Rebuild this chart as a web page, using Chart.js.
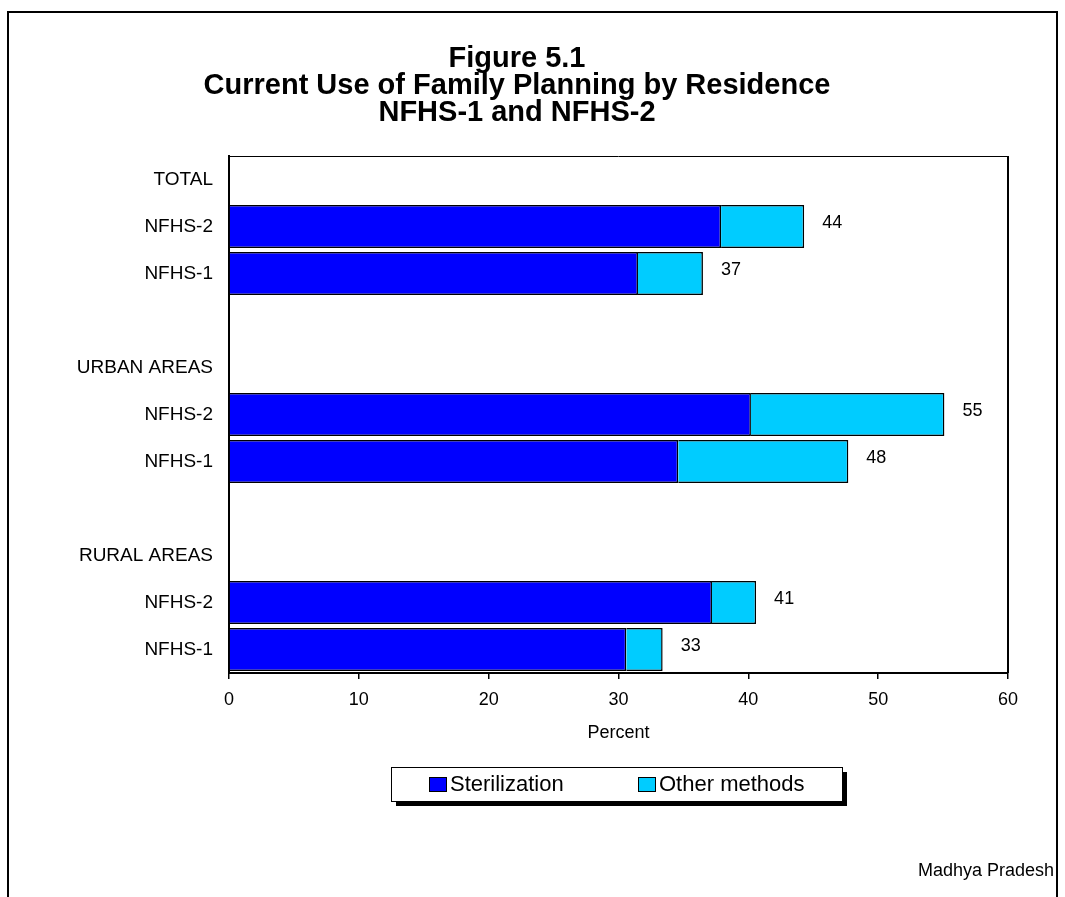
<!DOCTYPE html>
<html>
<head>
<meta charset="utf-8">
<title>Figure 5.1</title>
<script src="https://cdn.jsdelivr.net/npm/chart.js@4/dist/chart.umd.min.js"></script>
<style>
    html, body { margin: 0; padding: 0; background: #fff; }
    #wrap { position: relative; width: 1065px; height: 897px; }
</style>
</head>
<body>
<div id="wrap"><canvas id="fpChart" width="1065" height="897"></canvas></div>
<script>
// Chart Data
const categories = ['TOTAL', 'NFHS-2', 'NFHS-1', '', 'URBAN AREAS', 'NFHS-2', 'NFHS-1', '', 'RURAL AREAS', 'NFHS-2', 'NFHS-1'];
const sterilization = [null, 37.9, 31.5, null, null, 40.2, 34.6, null, null, 37.2, 30.6];
const otherMethods = [null, 6.4, 5.0, null, null, 14.9, 13.1, null, null, 3.4, 2.8];
const totalLabels = [null, 44, 37, null, null, 55, 48, null, null, 41, 33];
const xTicks = [0, 10, 20, 30, 40, 50, 60];
const seriesNames = ['Sterilization', 'Other methods'];
const titleLines = ['Figure 5.1', 'Current Use of Family Planning by Residence', 'NFHS-1 and NFHS-2'];

const colors = ['#0000FF', '#00CCFF'];
const FONT = "'Liberation Sans', Arial, sans-serif";

// draws title, frame, value labels, axis title, legend
const extrasPlugin = {
    id: 'extras',
    afterDraw(chart) {
        const ctx = chart.ctx;
        const area = chart.chartArea;
        const x = chart.scales.x;
        const y = chart.scales.y;
        ctx.save();

        // outer frame
        ctx.strokeStyle = '#000';
        ctx.lineWidth = 2;
        ctx.beginPath();
        ctx.moveTo(8, 897);
        ctx.lineTo(8, 12);
        ctx.lineTo(1057, 12);
        ctx.lineTo(1057, 897);
        ctx.stroke();

        // plot box
        ctx.lineWidth = 1;
        ctx.beginPath();
        ctx.moveTo(area.left, area.top + 0.5);
        ctx.lineTo(area.right, area.top + 0.5);
        ctx.stroke();
        ctx.lineWidth = 2;
        ctx.beginPath();
        ctx.moveTo(area.right, area.top);
        ctx.lineTo(area.right, area.bottom);
        ctx.stroke();

        // title
        ctx.fillStyle = '#000';
        ctx.textAlign = 'center';
        ctx.textBaseline = 'middle';
        ctx.font = 'bold 29px ' + FONT;
        titleLines.forEach((t, i) => ctx.fillText(t, 517, 59 + i * 27));

        // value labels
        ctx.font = '18px ' + FONT;
        ctx.textAlign = 'left';
        totalLabels.forEach((v, i) => {
            if (v === null) return;
            const end = x.getPixelForValue(sterilization[i] + otherMethods[i]);
            ctx.fillText(String(v), end + 18, y.getPixelForValue(i) - 3);
        });

        // axis title
        ctx.textAlign = 'center';
        ctx.fillText('Percent', (area.left + area.right) / 2, 733);

        // footer
        ctx.textAlign = 'right';
        ctx.fillText('Madhya Pradesh', 1054, 871);

        // legend box with shadow
        const lx = 391, ly = 767, lw = 451, lh = 34;
        ctx.fillStyle = '#000';
        ctx.fillRect(lx + 5, ly + 5, lw, lh);
        ctx.fillStyle = '#fff';
        ctx.fillRect(lx, ly, lw, lh);
        ctx.lineWidth = 1;
        ctx.strokeStyle = '#000';
        ctx.strokeRect(lx + 0.5, ly + 0.5, lw, lh);

        const items = [[429, 450], [638, 659]];
        ctx.font = '22px ' + FONT;
        ctx.textAlign = 'left';
        items.forEach((pos, i) => {
            ctx.fillStyle = colors[i];
            ctx.fillRect(pos[0], 777, 17, 14);
            ctx.strokeRect(pos[0] + 0.5, 777.5, 17, 14);
            ctx.fillStyle = '#000';
            ctx.fillText(seriesNames[i], pos[1], 785);
        });

        ctx.restore();
    }
};

const chartData = {
    labels: categories,
    datasets: [
        {
            label: seriesNames[0],
            data: sterilization,
            backgroundColor: colors[0],
            borderColor: '#000',
            borderWidth: 1.5
        },
        {
            label: seriesNames[1],
            data: otherMethods,
            backgroundColor: colors[1],
            borderColor: '#000',
            borderWidth: 1.5
        }
    ]
};

function initializeChart() {
    const canvas = document.getElementById('fpChart');
    new Chart(canvas, {
        type: 'bar',
        data: chartData,
        options: {
            indexAxis: 'y',
            responsive: false,
            animation: false,
            datasets: {
                bar: { categoryPercentage: 1, barPercentage: 0.915 }
            },
            layout: {
                padding: { top: 156, right: 57, bottom: 0, left: 0 }
            },
            scales: {
                x: {
                    stacked: true,
                    min: 0,
                    max: 60,
                    afterBuildTicks: (scale) => { scale.ticks = xTicks.map(v => ({ value: v })); },
                    afterFit: (scale) => { scale.height = 224; },
                    ticks: {
                        color: '#000',
                        font: { family: FONT, size: 18 },
                        padding: 10,
                        maxRotation: 0
                    },
                    grid: {
                        display: true,
                        drawOnChartArea: false,
                        drawTicks: true,
                        tickLength: 6,
                        color: '#000',
                        lineWidth: 1.5
                    },
                    border: { display: true, color: '#000', width: 2 }
                },
                y: {
                    stacked: true,
                    afterFit: (scale) => { scale.width = 229; },
                    ticks: {
                        color: '#000',
                        font: { family: FONT, size: 19 },
                        padding: 16,
                        autoSkip: false
                    },
                    grid: { display: false, drawTicks: false },
                    border: { display: true, color: '#000', width: 2 }
                }
            },
            plugins: {
                legend: { display: false },
                tooltip: { enabled: false }
            }
        },
        plugins: [extrasPlugin]
    });
}

document.addEventListener('DOMContentLoaded', function() {
    initializeChart();
});
</script>
</body>
</html>
